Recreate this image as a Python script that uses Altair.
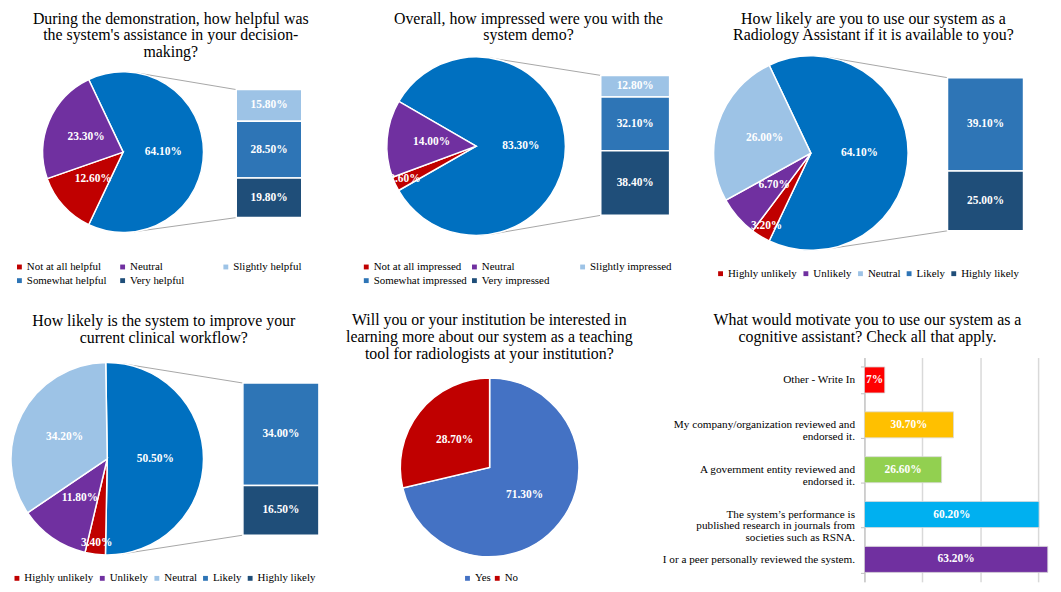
import math
import pandas as pd
import altair as alt

SERIF = "Liberation Serif"

# ---------------- data ----------------
p1_title = ["During the demonstration, how helpful was",
            "the system's assistance in your decision-", "making?"]
p1_legend = ["Not at all helpful", "Neutral", "Slightly helpful", "Somewhat helpful", "Very helpful"]
p1_pie_cats = ["Other", "Not at all helpful", "Neutral"]
p1_pie_vals = [64.1, 12.6, 23.3]
p1_bar_cats = ["Slightly helpful", "Somewhat helpful", "Very helpful"]
p1_bar_vals = [15.8, 28.5, 19.8]

p2_title = ["Overall, how impressed were you with the", "system demo?"]
p2_legend = ["Not at all impressed", "Neutral", "Slightly impressed", "Somewhat impressed", "Very impressed"]
p2_pie_cats = ["Other", "Not at all impressed", "Neutral"]
p2_pie_vals = [83.3, 2.6, 14.0]
p2_bar_cats = ["Slightly impressed", "Somewhat impressed", "Very impressed"]
p2_bar_vals = [12.8, 32.1, 38.4]

likert = ["Highly unlikely", "Unlikely", "Neutral", "Likely", "Highly likely"]

p3_title = ["How likely are you to use our system as a",
            "Radiology Assistant if it is available to you?"]
p3_pie_cats = ["Other", "Highly unlikely", "Unlikely", "Neutral"]
p3_pie_vals = [64.1, 3.2, 6.7, 26.0]
p3_bar_cats = ["Likely", "Highly likely"]
p3_bar_vals = [39.1, 25.0]

p4_title = ["How likely is the system to improve your", "current clinical workflow?"]
p4_pie_cats = ["Other", "Highly unlikely", "Unlikely", "Neutral"]
p4_pie_vals = [50.5, 3.4, 11.8, 34.2]
p4_bar_cats = ["Likely", "Highly likely"]
p4_bar_vals = [34.0, 16.5]

p5_title = ["Will you or your institution be interested in",
            "learning more about our system as a teaching",
            "tool for radiologists at your institution?"]
p5_cats = ["Yes", "No"]
p5_vals = [71.3, 28.7]

p6_title = ["What would motivate you to use our system as a",
            "cognitive assistant? Check all that apply."]
p6_cats = ["Other - Write In",
           "My company/organization reviewed and\nendorsed it.",
           "A government entity reviewed and\nendorsed it.",
           "The system\u2019s performance is\npublished research in journals from\nsocieties such as RSNA.",
           "I or a peer personally reviewed the system."]
p6_vals = [7, 30.7, 26.6, 60.2, 63.2]

# ---------------- styles ----------------
five_colors = ["#C00000", "#7030A0", "#9DC3E6", "#2E75B6", "#1F4E79"]
other_color = "#0070C0"
p5_colors = ["#4472C4", "#C00000"]
p6_colors = ["#FF0000", "#FFC000", "#92D050", "#00B0F0", "#7030A0"]
CONN = "#A6A6A6"
LBL = 11.5      # data label size
LEG = 11        # legend label size


def pct(v):
    return f"{v:.2f}%"


def make_legend(values, lx, ly, columns, colpad, grid="each"):
    return alt.Legend(orient="none", legendX=lx, legendY=ly, direction="horizontal",
                      columns=columns, columnPadding=colpad, rowPadding=2,
                      gridAlign=grid, title=None, values=values,
                      symbolType="square", symbolSize=24, symbolStrokeWidth=0,
                      labelFont=SERIF, labelFontSize=LEG, labelColor="black",
                      labelOffset=2, padding=0, labelLimit=300)


def pie_text_layers(pie, tscale, cx, cy, R):
    """Two label layers over the full stacked data: big slices near mid-radius,
    small slices near the rim (as the reference does)."""
    common = dict(font=SERIF, fontSize=LBL, fontWeight="bold", color="white")
    big = alt.Chart(pie).mark_text(radius=0.5 * R, **common).encode(
        theta=alt.Theta("value:Q", stack=True, scale=tscale),
        order=alt.Order("ord:Q"),
        text=alt.condition("datum.value >= 5", alt.Text("label:N"), alt.value("")),
        x=alt.value(cx), y=alt.value(cy))
    small = alt.Chart(pie).mark_text(radius=0.88 * R, **common).encode(
        theta=alt.Theta("value:Q", stack=True, scale=tscale),
        order=alt.Order("ord:Q"),
        text=alt.condition("datum.value < 5", alt.Text("label:N"), alt.value("")),
        x=alt.value(cx), y=alt.value(cy))
    return [big, small]


def pie_of_bar(title, legend_order, pie_cats, pie_vals, bar_cats, bar_vals, lay):
    W, H = lay["W"], lay["H"]
    cx, cy, R = lay["cx"], lay["cy"], lay["R"]
    bx0, bx1, bt, bb = lay["bar"]
    cscale = alt.Scale(domain=legend_order + ["Other"], range=five_colors + [other_color])
    legend = make_legend(legend_order, lay["lx"], lay["ly"], lay["cols"], lay["cpad"], lay["grid"])

    pie = pd.DataFrame({"cat": pie_cats, "value": pie_vals})
    pie["ord"] = list(range(len(pie)))
    pie["label"] = [pct(v) for v in pie_vals]
    a0 = (math.pi / 2 - math.pi * pie_vals[0] / 100.0) % (2 * math.pi)
    tscale = alt.Scale(range=[a0, a0 + 2 * math.pi])

    arcs = alt.Chart(pie).mark_arc(outerRadius=R, stroke="white", strokeWidth=1.5).encode(
        theta=alt.Theta("value:Q", stack=True, scale=tscale),
        order=alt.Order("ord:Q"),
        color=alt.Color("cat:N", scale=cscale, legend=legend),
        x=alt.value(cx), y=alt.value(cy))

    bar = pd.DataFrame({"cat": bar_cats, "value": bar_vals})
    bar["e"] = bar["value"].cumsum()
    bar["s"] = bar["e"] - bar["value"]
    bar["m"] = (bar["s"] + bar["e"]) / 2
    bar["label"] = [pct(v) for v in bar_vals]
    yscale = alt.Scale(domain=[0, float(sum(bar_vals))], range=[bt, bb], nice=False, zero=False)
    rects = alt.Chart(bar).mark_rect(stroke="white", strokeWidth=1.5).encode(
        x=alt.value(bx0), x2=alt.value(bx1),
        y=alt.Y("s:Q", scale=yscale, axis=None), y2="e:Q",
        color=alt.Color("cat:N", scale=cscale, legend=legend))
    btext = alt.Chart(bar).mark_text(font=SERIF, fontSize=LBL, fontWeight="bold",
                                     color="white").encode(
        x=alt.value((bx0 + bx1) / 2),
        y=alt.Y("m:Q", scale=yscale, axis=None),
        text="label:N")

    # connector lines: tangent from the bar corners to the pie circle
    def tangent(px, py, sign):
        vx, vy = px - cx, py - cy
        d = math.hypot(vx, vy)
        phi = math.atan2(vx, -vy)
        t = phi + sign * math.acos(R / d)
        return cx + R * math.sin(t), cy - R * math.cos(t)

    t1 = tangent(bx0, bt, -1)
    t2 = tangent(bx0, bb, 1)
    conn = pd.DataFrame({"px": [t1[0], t2[0]], "py": [t1[1], t2[1]],
                         "qx": [bx0, bx0], "qy": [bt, bb]})
    rules = alt.Chart(conn).mark_rule(color=CONN, strokeWidth=1).encode(
        x=alt.X("px:Q", scale=None), y=alt.Y("py:Q", scale=None),
        x2="qx:Q", y2="qy:Q")

    layers = [rules, arcs] + pie_text_layers(pie, tscale, cx, cy, R) + [rects, btext]
    return alt.layer(*layers).properties(
        width=W, height=H,
        title=alt.TitleParams(text=title, offset=lay["toff"], dx=lay["dx"]))


L1 = dict(W=322, H=240, cx=113, cy=100, R=81, bar=(227, 293, 37, 166),
          lx=3, ly=210, cols=3, cpad=10, grid="all", toff=-7.5, dx=0)
L2 = dict(W=380, H=240, cx=146.7, cy=94, R=90, bar=(272.3, 341.7, 22.7, 163.7),
          lx=30.5, ly=210, cols=3, cpad=2, grid="all", toff=9.5, dx=9.5)
L3 = dict(W=343, H=240, cx=104, cy=101, R=98, bar=(241.7, 318.3, 25, 179.3),
          lx=7.5, ly=217, cols=5, cpad=3, grid="none", toff=9.5, dx=-4.5)
L4 = dict(W=312, H=228, cx=97, cy=102, R=97, bar=(233.7, 310.3, 25.7, 179),
          lx=0.5, ly=217, cols=5, cpad=3, grid="none", toff=11.5, dx=-2)

p1 = pie_of_bar(p1_title, p1_legend, p1_pie_cats, p1_pie_vals, p1_bar_cats, p1_bar_vals, L1)
p2 = pie_of_bar(p2_title, p2_legend, p2_pie_cats, p2_pie_vals, p2_bar_cats, p2_bar_vals, L2)
p3 = pie_of_bar(p3_title, likert, p3_pie_cats, p3_pie_vals, p3_bar_cats, p3_bar_vals, L3)
p4 = pie_of_bar(p4_title, likert, p4_pie_cats, p4_pie_vals, p4_bar_cats, p4_bar_vals, L4)

# ---- panel 5: simple pie ----
R5, cx5, cy5 = 90, 170.3, 110.7
df5 = pd.DataFrame({"cat": p5_cats, "value": p5_vals})
df5["ord"] = list(range(len(df5)))
df5["label"] = [pct(v) for v in p5_vals]
c5 = alt.Scale(domain=p5_cats, range=p5_colors)
leg5 = make_legend(p5_cats, 142.5, 217, 2, 0, "none")
t5 = alt.Scale(range=[0, 2 * math.pi])
arc5 = alt.Chart(df5).mark_arc(outerRadius=R5, stroke="white", strokeWidth=1.5).encode(
    theta=alt.Theta("value:Q", stack=True, scale=t5), order=alt.Order("ord:Q"),
    color=alt.Color("cat:N", scale=c5, legend=leg5),
    x=alt.value(cx5), y=alt.value(cy5))
p5 = alt.layer(arc5, *pie_text_layers(df5, t5, cx5, cy5, R5)).properties(
    width=330, height=228, title=alt.TitleParams(text=p5_title, offset=-4.5, dx=5))

# ---- panel 6: horizontal bars ----
df6 = pd.DataFrame({"cat": p6_cats, "value": p6_vals})
df6["mid"] = df6["value"] / 2
df6["label"] = [f"{v:.0f}%" if float(v).is_integer() else f"{v:.2f}%" for v in p6_vals]
y6 = alt.Scale(domain=p6_cats, paddingInner=0.42, paddingOuter=0.21)
x6 = alt.Scale(domain=[0, 65], nice=False, zero=True)
bars6 = alt.Chart(df6).mark_bar(stroke="#D9D9D9", strokeWidth=0.8).encode(
    y=alt.Y("cat:N", scale=y6, sort=None,
            axis=alt.Axis(title=None, labelExpr="split(datum.label, '\\n')",
                          labelFont=SERIF, labelFontSize=11.3, labelColor="black",
                          labelLineHeight=11.5, labelPadding=6, labelLimit=300,
                          tickBand="extent", tickSize=4, tickColor="#BFBFBF",
                          domainColor="#BFBFBF", minExtent=218, maxExtent=218)),
    x=alt.X("value:Q", scale=x6,
            axis=alt.Axis(title=None, labels=False, ticks=False, domain=False, grid=True,
                          values=[0, 10, 20, 30, 40, 50, 60], gridColor="#D9D9D9",
                          gridWidth=1.5)),
    color=alt.Color("cat:N", scale=alt.Scale(domain=p6_cats, range=p6_colors), legend=None))
txt6 = alt.Chart(df6).mark_text(font=SERIF, fontSize=LBL, fontWeight="bold", color="white").encode(
    y=alt.Y("cat:N", scale=y6, sort=None),
    x=alt.X("mid:Q", scale=x6),
    text="label:N")
p6 = alt.layer(bars6, txt6).properties(
    width=190, height=226, title=alt.TitleParams(text=p6_title, offset=6.5, dx=-92))

top = alt.hconcat(p1, p2, p3, spacing=0).resolve_scale(
    color="independent", theta="independent").resolve_legend(color="independent")
bottom = alt.hconcat(p4, p5, p6, spacing=0).resolve_scale(
    color="independent", theta="independent").resolve_legend(color="independent")

chart = alt.vconcat(top, bottom, spacing=21).resolve_scale(
    color="independent", theta="independent").resolve_legend(color="independent").properties(
    padding=0).configure_view(stroke=None).configure_title(
    font=SERIF, fontSize=16, fontWeight="normal", color="black", lineHeight=17)

chart.save("out.html", embed_options={"renderer": "svg", "actions": False})
